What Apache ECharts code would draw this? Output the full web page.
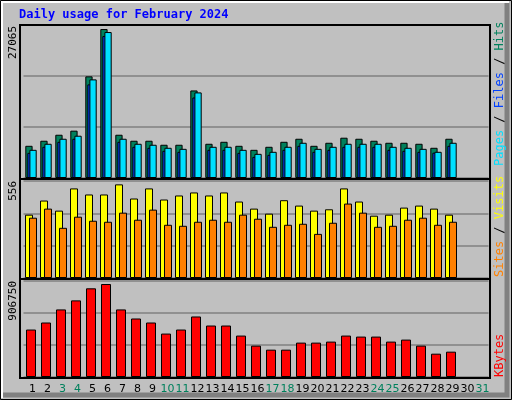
<!DOCTYPE html>
<html><head><meta charset="utf-8">
<script src="https://cdn.jsdelivr.net/npm/echarts@6/dist/echarts.min.js"></script>
<style>html,body{margin:0;padding:0;background:#c0c0c0}#c{width:512px;height:400px}</style>
</head><body><div id="c"></div>
<script>
var days = ['1','2','3','4','5','6','7','8','9','10','11','12','13','14','15','16','17','18','19','20','21','22','23','24','25','26','27','28','29','30','31'];
var weekend = ['3','4','10','11','17','18','24','25','31'];
var hits  = [5850,6770,7860,8600,18470,27065,7860,6770,6770,6040,6040,15910,6220,6580,5850,5120,5670,6580,7130,5850,6400,7320,7130,6770,6400,6400,6220,5490,7130,null,null];
var files = [5120,6220,7130,7680,17920,26520,7130,6220,6040,5490,5300,15550,5670,5670,5120,4390,4760,5670,6400,5300,5670,6220,6220,6220,5670,5490,5300,4760,6400,null,null];
var pages = [4570,5670,6580,7130,17010,25790,6580,5670,5490,4940,4760,14630,5120,5120,4570,3840,4210,5120,5850,4760,5120,5670,5670,5670,5120,4940,4760,4600,5850,null,null];
var visits = [376,460,400,532,496,496,556,472,532,466,490,508,490,508,454,412,382,462,430,400,408,532,454,370,376,418,430,412,376,null,null];
var sites  = [358,412,298,364,340,334,388,346,406,316,310,334,346,334,376,352,304,316,322,262,328,442,388,304,310,346,358,316,334,null,null];
var kbytes = [462700,531300,658800,747000,864600,906750,658800,570500,531300,423500,462700,590100,501900,501900,403900,305900,266600,266600,335300,335300,345100,403900,394100,394100,345100,364700,305900,227400,247000,null,null];
var maxLabels = ['27065','556','906750'];

var font = 'DejaVu Sans Mono';
function xa(i, show){
  return {gridIndex:i,type:'category',data:days,axisLine:{show:false},axisTick:{show:false},
    axisLabel:{show:show,interval:0,margin:7,fontFamily:'DejaVu Sans',fontSize:11,padding:[0,0,0,3],
      color:function(v){return weekend.indexOf(v)>=0?'#00805c':'#000';}}};
}
function ya(i, max){
  return {gridIndex:i,type:'value',min:0,max:max,interval:max/3,axisLabel:{show:false},axisLine:{show:false},axisTick:{show:false},
    splitLine:{lineStyle:{color:'#808080',width:1.5}}};
}
var bs = {borderColor:'#000',borderWidth:1};
var lf = '12px '+font;
var chart = echarts.init(document.getElementById('c'));
chart.setOption({
  backgroundColor:'#c0c0c0', animation:false,
  grid:[{left:23.5,right:23.5,top:25,height:153},{left:23.5,right:23.5,top:181,height:97},{left:23.5,right:23.5,top:281,height:96}],
  xAxis:[xa(0,false),xa(1,false),xa(2,true)],
  yAxis:[ya(0,27800),ya(1,576),ya(2,936000)],
  series:[
    {type:'bar',xAxisIndex:0,yAxisIndex:0,data:hits,barWidth:7.3,barGap:'-72%',itemStyle:Object.assign({color:'#00805c'},bs)},
    {type:'bar',xAxisIndex:0,yAxisIndex:0,data:pages,barWidth:7.3,itemStyle:Object.assign({color:'#0040ff'},bs)},
    {type:'bar',xAxisIndex:0,yAxisIndex:0,data:files,barWidth:7.3,itemStyle:Object.assign({color:'#00e0ff'},bs)},
    {type:'bar',xAxisIndex:1,yAxisIndex:1,data:visits,barWidth:8,barGap:'-50%',itemStyle:Object.assign({color:'#ffff00'},bs)},
    {type:'bar',xAxisIndex:1,yAxisIndex:1,data:sites,barWidth:8,itemStyle:Object.assign({color:'#ff8000'},bs)},
    {type:'bar',xAxisIndex:2,yAxisIndex:2,data:kbytes,barWidth:10,itemStyle:Object.assign({color:'#ff0000'},bs)}
  ],
  graphic:[
    {type:'rect',shape:{x:0.5,y:0.5,width:511,height:399},style:{fill:'none',stroke:'#000',lineWidth:1},z:100},
    {type:'polyline',shape:{points:[[2,398],[2,2],[509,2]]},style:{fill:'none',stroke:'#fff',lineWidth:2},z:100},
    {type:'polyline',shape:{points:[[3,395],[507,395],[507,3]]},style:{fill:'none',stroke:'#808080',lineWidth:5},z:100},
    {type:'text',left:19,top:9,style:{text:'Daily usage for February 2024',fill:'#0000ff',font:'bold 12px '+font},z:100},
    {type:'rect',shape:{x:20,y:25,width:470,height:154},style:{fill:'none',stroke:'#000',lineWidth:2},z:100},
    {type:'rect',shape:{x:20,y:179,width:470,height:100},style:{fill:'none',stroke:'#000',lineWidth:2},z:100},
    {type:'rect',shape:{x:20,y:279,width:470,height:99},style:{fill:'none',stroke:'#000',lineWidth:2},z:100},
    {type:'text',x:8,y:26,rotation:Math.PI/2,style:{text:maxLabels[0],fill:'#000',font:'11px '+font,align:'right',verticalAlign:'top'},z:100},
    {type:'text',x:8,y:181,rotation:Math.PI/2,style:{text:maxLabels[1],fill:'#000',font:'11px '+font,align:'right',verticalAlign:'top'},z:100},
    {type:'text',x:8,y:281,rotation:Math.PI/2,style:{text:maxLabels[2],fill:'#000',font:'11px '+font,align:'right',verticalAlign:'top'},z:100},
    {type:'text',x:494,y:166,rotation:Math.PI/2,style:{text:'{p|Pages}{s| / }{f|Files}{s| / }{h|Hits}',font:lf,align:'left',verticalAlign:'top',
      rich:{p:{fill:'#00e0ff',font:lf},s:{fill:'#000',font:lf},f:{fill:'#0040ff',font:lf},h:{fill:'#00805c',font:lf}}},z:100},
    {type:'text',x:494,y:277,rotation:Math.PI/2,style:{text:'{o|Sites}{s| / }{y|Visits}',font:lf,align:'left',verticalAlign:'top',
      rich:{o:{fill:'#ff8000',font:lf},s:{fill:'#000',font:lf},y:{fill:'#ffff00',font:lf}}},z:100},
    {type:'text',x:494,y:377,rotation:Math.PI/2,style:{text:'KBytes',fill:'#ff0000',font:lf,align:'left',verticalAlign:'top'},z:100}
  ]
});
</script></body></html>
